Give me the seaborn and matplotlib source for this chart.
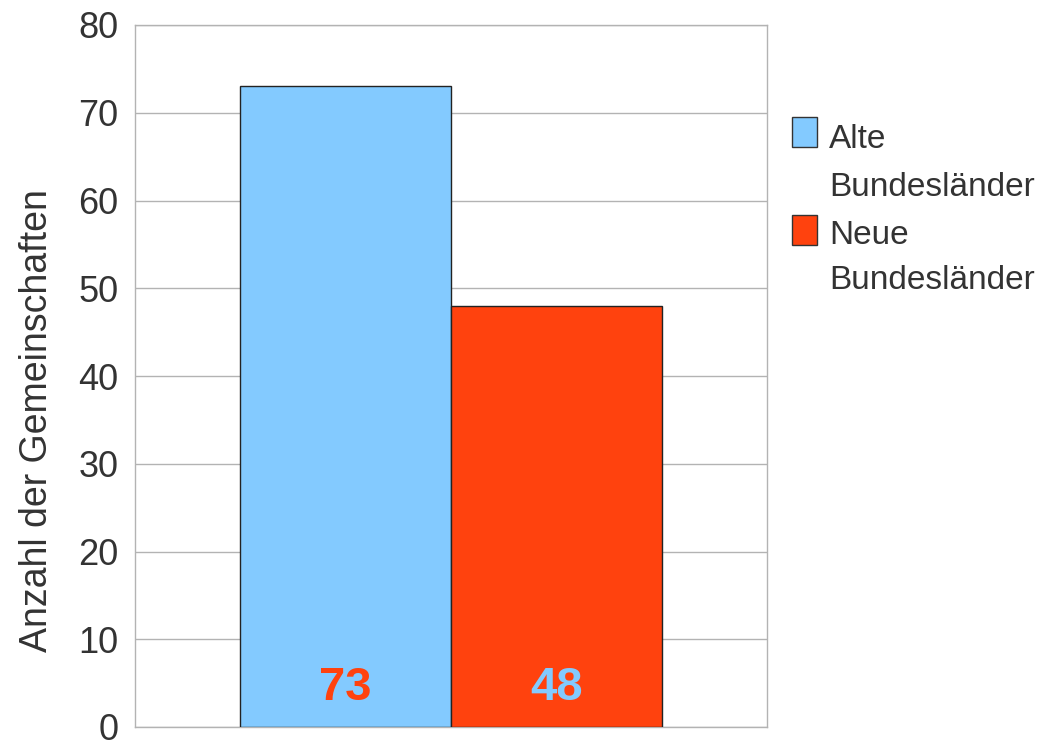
import numpy as np
import pandas as pd
import matplotlib
matplotlib.use("Agg")
import matplotlib.pyplot as plt
from matplotlib.patches import Rectangle
import seaborn as sns

# Daten
gruppen = ["Alte Bundesländer", "Neue Bundesländer"]
legende_zeilen = [["Alte", "Bundesländer"], ["Neue", "Bundesländer"]]
anzahl = [73, 48]
farben = ["#83CAFF", "#FF420E"]
ylabel = "Anzahl der Gemeinschaften"
yticks = [0, 10, 20, 30, 40, 50, 60, 70, 80]

sns.set_theme(style="white")
plt.rcParams['font.family'] = ['Liberation Sans Narrow', 'Liberation Sans', 'DejaVu Sans']
textfarbe = "#333333"

df = pd.DataFrame({"gruppe": gruppen, "anzahl": anzahl})

W, H = 1047, 746
fig = plt.figure(figsize=(W/100, H/100), dpi=100)
ax = fig.add_axes([135/W, 19/H, 632/W, 702/H])

sns.barplot(data=df, x="gruppe", y="anzahl", hue="gruppe", palette=farben,
            width=1.0, dodge=False, saturation=1, edgecolor="#222222",
            linewidth=1.0, legend=False, ax=ax, zorder=3)

ax.set_xlim(-1, 2)
ax.set_ylim(0, 80)
ax.set_yticks(yticks)
ax.set_yticklabels([str(t) for t in yticks], fontsize=26, color=textfarbe)
ax.set_xticks([])
ax.set_xlabel("")
ax.set_ylabel(ylabel, fontsize=27, color=textfarbe)
ax.yaxis.set_label_coords(-0.127, 0.437)
ax.tick_params(axis="y", length=0, pad=12)
ax.yaxis.grid(True, color="#b3b3b3", linewidth=1.0, zorder=0)
ax.set_axisbelow(True)
for s in ax.spines.values():
    s.set_color("#b3b3b3")
    s.set_linewidth(1.0)

# Werte in die Balken
for i, (v, f) in enumerate(zip(anzahl, farben[::-1])):
    ax.text(i, 4.4, str(v), ha="center", va="center", fontsize=34,
            fontweight="bold", color=f, zorder=5)

# Legende (Kästchen oben an der ersten Zeile ausgerichtet)
box_top = [117, 215]
baselines = [[148, 196], [244, 289]]
for f, top, zeilen, bl in zip(farben, box_top, legende_zeilen, baselines):
    fig.patches.append(Rectangle((792/W, 1 - (top + 30)/H), 25/W, 30/H,
                                 transform=fig.transFigure, facecolor=f,
                                 edgecolor="#333333", linewidth=1.0))
    for z, b in zip(zeilen, bl):
        fig.text(829/W, 1 - b/H, z, fontsize=24, color=textfarbe,
                 ha="left", va="baseline")

fig.savefig("out.png", dpi=100)
